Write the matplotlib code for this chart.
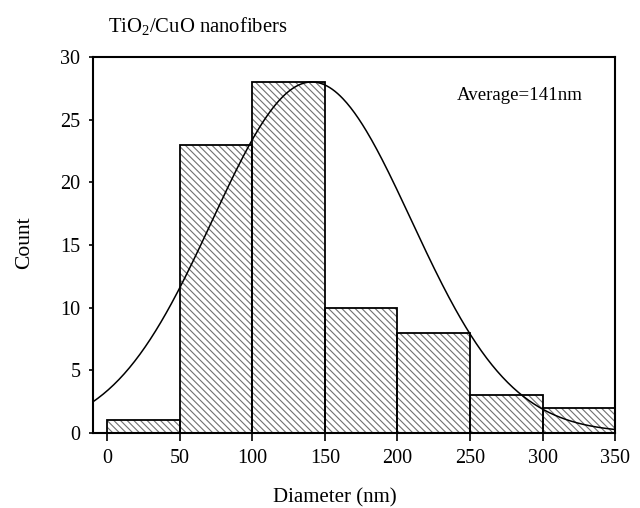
import matplotlib
matplotlib.use("Agg")
import matplotlib.pyplot as plt
import numpy as np

plt.rcParams["font.family"] = "Liberation Serif"
plt.rcParams["mathtext.fontset"] = "custom"
plt.rcParams["mathtext.rm"] = "Liberation Serif"
plt.rcParams["hatch.linewidth"] = 0.8

binEdges = [0, 50, 100, 150, 200, 250, 300, 350]
counts = [1, 23, 28, 10, 8, 3, 2]

# fitted normal curve
fitMean = 141
fitSigma = 68.5
fitPeak = 28

fig = plt.figure(figsize=(6.4, 5.08), dpi=100)
ax = fig.add_axes([0.145, 0.148, 0.816, 0.74])

lefts = binEdges[:-1]
widths = np.diff(binEdges)

# hatch in grey, outline in black
ax.bar(lefts, counts, width=widths, align="edge", color="white",
       edgecolor="#707070", hatch="\\" * 5, linewidth=0)
ax.bar(lefts, counts, width=widths, align="edge", fill=False,
       edgecolor="black", linewidth=1.3)

xs = np.linspace(-10, 350, 400)
ax.plot(xs, fitPeak * np.exp(-(xs - fitMean) ** 2 / (2 * fitSigma ** 2)),
        color="black", linewidth=1.1)

ax.set_xlim(-10, 350)
ax.set_ylim(0, 30)
ax.set_xticks(binEdges)
ax.set_yticks([0, 5, 10, 15, 20, 25, 30])
ax.tick_params(axis="x", direction="out", length=6, width=1.2, labelsize=14.5, pad=6)
ax.tick_params(axis="y", direction="out", length=3, width=1.2, labelsize=14.5, pad=6)
for s in ax.spines.values():
    s.set_linewidth(1.5)

fig.text(335 / 640, 1 - 498 / 508, "Diameter (nm)", fontsize=15, ha="center", va="center")
fig.text(25 / 640, 1 - 243 / 508, "Count", fontsize=15.5, ha="center", va="center",
         rotation=90)

ax.text(0.697, 0.885, "Average=141nm", transform=ax.transAxes, fontsize=13.6)
fig.text(0.168, 0.948, "TiO$_2$/CuO nanofibers", fontsize=14.9, va="center")

fig.savefig("out.png", dpi=100)
